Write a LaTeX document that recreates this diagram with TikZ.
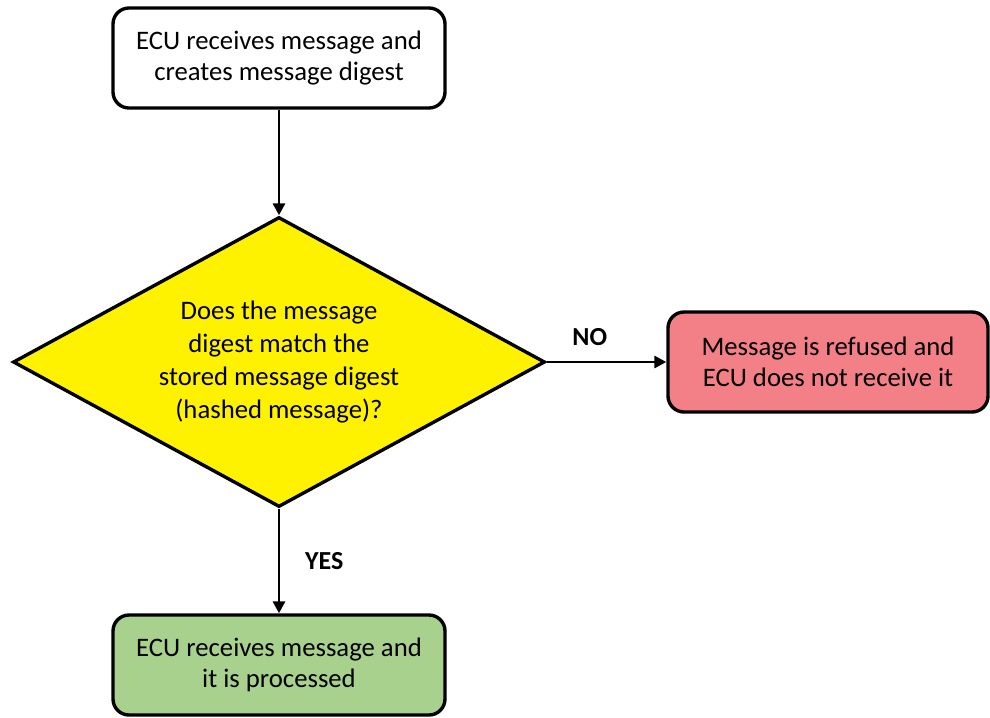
\documentclass[tikz,border=0pt]{standalone}
\usepackage{fontspec}
\setmainfont{Carlito}
\usetikzlibrary{shapes.geometric,arrows.meta,positioning}
\definecolor{refused}{RGB}{244,128,135}
\definecolor{processed}{RGB}{169,209,142}

\begin{document}
\begin{tikzpicture}[
    box/.style={rectangle,rounded corners=0.4cm,draw,line width=2.4pt,minimum width=8.3cm,minimum height=2.5cm,align=center,font=\fontsize{19}{22.5}\selectfont},
    decision/.style={diamond,draw,line width=2.4pt,fill=yellow,aspect=1.84,inner sep=0pt,minimum width=13.3cm,minimum height=7.25cm,align=center,font=\fontsize{19}{23.5}\selectfont},
    flow/.style={-{Triangle[length=0.3cm,width=0.3cm]},line width=2.1pt},
    answer/.style={font=\fontsize{18.5}{22.5}\selectfont\bfseries}
]
    \useasboundingbox (0,0) rectangle (24.75,-17.925);

    \node [box] (receive) at (6.975,-1.45) {ECU receives message and\\creates message digest};
    \node [decision] (match) at (6.975,-9.05) {Does the message\\digest match the\\stored message digest\\(hashed message)?};
    \node [box,fill=refused,minimum width=8.0cm] (refuse) at (20.7,-9.05) {Message is refused and\\ECU does not receive it};
    \node [box,fill=processed] (process) at (6.975,-16.625) {ECU receives message and\\it is processed};

    \draw [flow] (receive) -- (match);
    \draw [flow] (match) -- (refuse) node [answer,pos=0.36,above=0.25cm] {NO};
    \draw [flow] (match) -- (process) node [answer,midway,right=0.5cm] {YES};
\end{tikzpicture}
\end{document}
